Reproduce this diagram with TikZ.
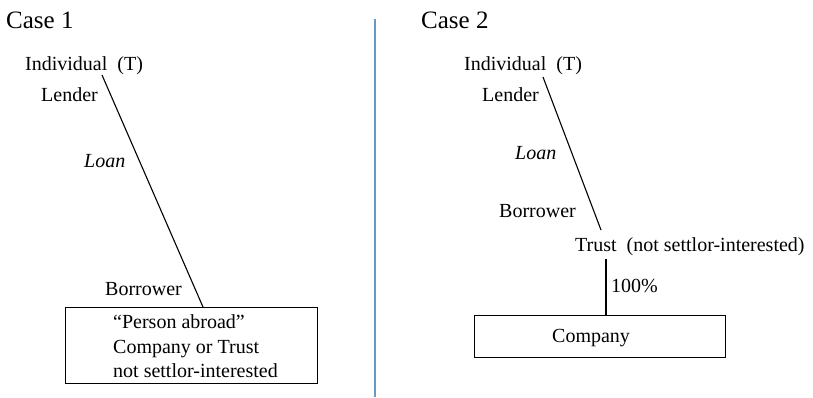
\documentclass[tikz,border=0pt]{standalone}
\usepackage{fontspec}
\setmainfont{Liberation Serif}
\definecolor{divblue}{RGB}{104,152,200}
\begin{document}
\begin{tikzpicture}[x=1pt,y=-1pt,
  lbl/.style={anchor=base west,inner sep=0pt,font=\fontsize{20}{24}\selectfont},
  ttl/.style={anchor=base west,inner sep=0pt,font=\fontsize{25}{30}\selectfont},
  boxn/.style={draw,line width=1.1pt,inner sep=0pt,anchor=north west},
  conn/.style={line width=1.1pt}]
\useasboundingbox (0,0) rectangle (813,397);
% divider
\coordinate (dtop) at (375,19);
\coordinate (dbot) at (375,397);
\draw[divblue,line width=2pt] (dtop) -- (dbot);
% Case 1
\node[ttl] (c1) at (6,28) {Case 1};
\node[lbl] (ind1) at (25,70) {Individual\ \ (T)};
\node[lbl] (len1) at (41,101) {Lender};
\node[lbl] (loan1) at (84,167) {\itshape Loan};
\node[lbl] (bor1) at (105,295) {Borrower};
\node[boxn,minimum width=252pt,minimum height=76pt] (box1) at (65,307) {};
\node[lbl,align=left] (pa1) at (113,328) {“Person abroad”};
\node[lbl] (cot1) at (113,353) {Company or Trust};
\node[lbl] (nsi1) at (113,377) {not settlor-interested};
\coordinate (s1) at (102,75);
\coordinate (e1) at (203,307);
\draw[conn] (s1) -- (e1);
% Case 2
\node[ttl] (c2) at (421,28) {Case 2};
\node[lbl] (ind2) at (464,70) {Individual\ \ (T)};
\node[lbl] (len2) at (482,101) {Lender};
\node[lbl] (loan2) at (515,159) {\itshape Loan};
\node[lbl] (bor2) at (499,217) {Borrower};
\node[lbl] (tr2) at (575,251) {Trust\ \ (not settlor-interested)};
\node[lbl] (pc2) at (611,292) {100\%};
\node[boxn,minimum width=251pt,minimum height=42pt] (box2) at (474,315) {};
\node[lbl] (co2) at (552,342) {Company};
\coordinate (s2) at (543,77);
\coordinate (e2) at (601,230);
\draw[conn] (s2) -- (e2);
\coordinate (v2) at (606,259);
\draw[conn] (v2) -- (v2 |- box2.north);
\end{tikzpicture}
\end{document}
